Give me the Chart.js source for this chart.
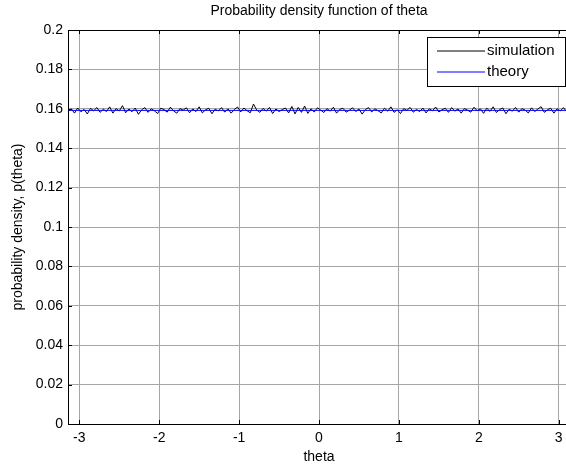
<!DOCTYPE html>
<html>
<head>
    <title>Probability density function of theta</title>
    <script src="https://cdn.jsdelivr.net/npm/chart.js"></script>
    <style>
        body {
            margin: 0;
            padding: 0;
            background: white;
            overflow: hidden;
        }
        #wrap {
            width: 572px;
            height: 467px;
        }
    </style>
</head>
<body>
    <div id="wrap">
        <canvas id="pdfChart" width="572" height="467"></canvas>
    </div>
    <script>
        // histogram bin centres (theta) and estimated density
        const thetaSim = [
            -3.14,-3.10,-3.06,-3.02,-2.98,-2.94,-2.90,-2.86,-2.82,-2.78,
            -2.74,-2.70,-2.66,-2.62,-2.58,-2.54,-2.50,-2.46,-2.42,-2.38,
            -2.34,-2.30,-2.26,-2.22,-2.18,-2.14,-2.10,-2.06,-2.02,-1.98,
            -1.94,-1.90,-1.86,-1.82,-1.78,-1.74,-1.70,-1.66,-1.62,-1.58,
            -1.54,-1.50,-1.46,-1.42,-1.38,-1.34,-1.30,-1.26,-1.22,-1.18,
            -1.14,-1.10,-1.06,-1.02,-0.98,-0.94,-0.90,-0.86,-0.82,-0.78,
            -0.74,-0.70,-0.66,-0.62,-0.58,-0.54,-0.50,-0.46,-0.42,-0.38,
            -0.34,-0.30,-0.26,-0.22,-0.18,-0.14,-0.10,-0.06,-0.02,
            0.02,0.06,0.10,0.14,0.18,0.22,0.26,0.30,0.34,0.38,
            0.42,0.46,0.50,0.54,0.58,0.62,0.66,0.70,0.74,0.78,
            0.82,0.86,0.90,0.94,0.98,1.02,1.06,1.10,1.14,1.18,
            1.22,1.26,1.30,1.34,1.38,1.42,1.46,1.50,1.54,1.58,
            1.62,1.66,1.70,1.74,1.78,1.82,1.86,1.90,1.94,1.98,
            2.02,2.06,2.10,2.14,2.18,2.22,2.26,2.30,2.34,2.38,
            2.42,2.46,2.50,2.54,2.58,2.62,2.66,2.70,2.74,2.78,
            2.82,2.86,2.90,2.94,2.98,3.02,3.06,3.10,3.14
        ];
        const densitySim = [
            0.1588,0.1600,0.1578,0.1604,0.1585,0.1597,0.1574,0.1602,0.1590,0.1606,
            0.1582,0.1598,0.1586,0.1610,0.1578,0.1601,0.1589,0.1616,0.1580,0.1599,
            0.1585,0.1604,0.1572,0.1595,0.1606,0.1582,0.1600,0.1590,0.1576,0.1603,
            0.1596,0.1583,0.1608,0.1589,0.1578,0.1601,0.1593,0.1605,0.1580,0.1599,
            0.1586,0.1610,0.1579,0.1595,0.1603,0.1575,0.1598,0.1589,0.1606,0.1583,
            0.1600,0.1578,0.1596,0.1609,0.1584,0.1604,0.1590,0.1580,0.1624,0.1594,
            0.1582,0.1602,0.1588,0.1607,0.1576,0.1599,0.1586,0.1596,0.1604,0.1579,
            0.1612,0.1574,0.1607,0.1582,0.1614,0.1577,0.1600,0.1584,0.1605,
            0.1594,0.1581,0.1601,0.1588,0.1608,0.1578,0.1597,0.1603,0.1583,0.1593,
            0.1605,0.1586,0.1599,0.1573,0.1596,0.1606,0.1584,0.1600,0.1590,0.1579,
            0.1603,0.1588,0.1610,0.1582,0.1595,0.1576,0.1601,0.1592,0.1607,0.1583,
            0.1597,0.1586,0.1604,0.1579,0.1600,0.1590,0.1609,0.1584,0.1595,0.1603,
            0.1582,0.1606,0.1588,0.1599,0.1578,0.1601,0.1593,0.1583,0.1608,0.1590,
            0.1600,0.1577,0.1603,0.1587,0.1610,0.1581,0.1596,0.1604,0.1575,0.1598,
            0.1588,0.1607,0.1583,0.1601,0.1593,0.1579,0.1605,0.1586,0.1599,0.1611,
            0.1582,0.1595,0.1603,0.1578,0.1600,0.1589,0.1606,0.1585,0.1597
        ];
        const thetaTheory = [-3.1416, 3.1416];
        const densityTheory = [0.1592, 0.1592];

        const xTickValues = [-3, -2, -1, 0, 1, 2, 3];
        const yTickValues = [0, 0.02, 0.04, 0.06, 0.08, 0.1, 0.12, 0.14, 0.16, 0.18, 0.2];
        const yTickLabels = ['0', '0.02', '0.04', '0.06', '0.08', '0.1', '0.12', '0.14', '0.16', '0.18', '0.2'];
        const legendLabels = ['simulation', 'theory'];
        const chartTitle = 'Probability density function of theta';

        const FONT = "'Liberation Sans', Arial, sans-serif";
        const SIM_COLOR = '#000000';
        const THEORY_COLOR = '#0000ff';

        // matlab style frame, inner ticks, title and legend
        const matlabAxes = {
            id: 'matlabAxes',
            afterDraw(chart) {
                const ctx = chart.ctx;
                const a = chart.chartArea;
                const xs = chart.scales.x;
                const ys = chart.scales.y;
                ctx.save();
                ctx.strokeStyle = '#000';
                ctx.lineWidth = 1;
                ctx.beginPath();
                xTickValues.forEach(v => {
                    const px = Math.round(xs.getPixelForValue(v)) + 0.5;
                    ctx.moveTo(px, a.bottom); ctx.lineTo(px, a.bottom - 4);
                    ctx.moveTo(px, a.top); ctx.lineTo(px, a.top + 4);
                });
                yTickValues.forEach(v => {
                    const py = Math.round(ys.getPixelForValue(v)) + 0.5;
                    ctx.moveTo(a.left, py); ctx.lineTo(a.left + 4, py);
                    ctx.moveTo(a.right, py); ctx.lineTo(a.right - 4, py);
                });
                ctx.stroke();
                ctx.strokeRect(Math.round(a.left) + 0.5, Math.round(a.top) + 0.5,
                    Math.round(a.right - a.left), Math.round(a.bottom - a.top));

                // title
                ctx.fillStyle = '#000';
                ctx.font = '14px ' + FONT;
                ctx.textAlign = 'center';
                ctx.textBaseline = 'middle';
                ctx.fillText(chartTitle, (a.left + a.right) / 2, 11);

                // legend
                const bx = 427.5, by = 37.5, bw = 138, bh = 49;
                ctx.fillStyle = '#fff';
                ctx.fillRect(bx, by, bw, bh);
                ctx.strokeStyle = '#000';
                ctx.strokeRect(bx, by, bw, bh);

                // lines sit on whole pixels so they blur over two rows like the plot lines
                ctx.beginPath();
                ctx.strokeStyle = SIM_COLOR;
                ctx.moveTo(437, 51); ctx.lineTo(485, 51);
                ctx.stroke();

                ctx.beginPath();
                ctx.strokeStyle = THEORY_COLOR;
                ctx.moveTo(437, 72); ctx.lineTo(485, 72);
                ctx.stroke();

                ctx.fillStyle = '#000';
                ctx.font = '15px ' + FONT;
                ctx.textAlign = 'left';
                ctx.fillText(legendLabels[0], 487, 51);
                ctx.fillText(legendLabels[1], 487, 72);
                ctx.restore();
            }
        };

        new Chart(document.getElementById('pdfChart'), {
            type: 'line',
            data: {
                datasets: [{
                    label: legendLabels[0],
                    data: thetaSim.map((t, i) => ({ x: t, y: densitySim[i] })),
                    borderColor: SIM_COLOR,
                    borderWidth: 1,
                    pointRadius: 0,
                    tension: 0,
                    order: 2
                }, {
                    label: legendLabels[1],
                    data: thetaTheory.map((t, i) => ({ x: t, y: densityTheory[i] })),
                    borderColor: THEORY_COLOR,
                    borderWidth: 1,
                    pointRadius: 0,
                    tension: 0,
                    order: 1
                }]
            },
            options: {
                responsive: false,
                animation: false,
                layout: { padding: { top: 30, right: 2, left: 0, bottom: 0 } },
                plugins: {
                    legend: { display: false },
                    tooltip: { enabled: false }
                },
                scales: {
                    x: {
                        type: 'linear',
                        min: -3.1416,
                        max: 3.1416,
                        afterBuildTicks: scale => {
                            scale.ticks = xTickValues.map(v => ({ value: v }));
                        },
                        afterFit: scale => { scale.height = 43; },
                        grid: { color: '#a6a6a6', drawTicks: false },
                        border: { color: '#000' },
                        ticks: {
                            color: '#000',
                            padding: 6,
                            maxRotation: 0,
                            font: { family: FONT, size: 14 },
                            callback: v => String(v)
                        },
                        title: {
                            display: true,
                            text: 'theta',
                            color: '#000',
                            font: { family: FONT, size: 14 },
                            padding: { top: 0, bottom: 1 }
                        }
                    },
                    y: {
                        min: 0,
                        max: 0.2,
                        afterBuildTicks: scale => {
                            scale.ticks = yTickValues.map(v => ({ value: v }));
                        },
                        afterFit: scale => { scale.width = 68; },
                        grid: { color: '#a6a6a6', drawTicks: false },
                        border: { color: '#000' },
                        ticks: {
                            color: '#000',
                            padding: 5,
                            font: { family: FONT, size: 14 },
                            callback: (v, i) => yTickLabels[i]
                        },
                        title: {
                            display: true,
                            text: 'probability density, p(theta)',
                            color: '#000',
                            font: { family: FONT, size: 14 },
                            padding: { top: 10, bottom: 0 }
                        }
                    }
                }
            },
            plugins: [matlabAxes]
        });
    </script>
</body>
</html>
